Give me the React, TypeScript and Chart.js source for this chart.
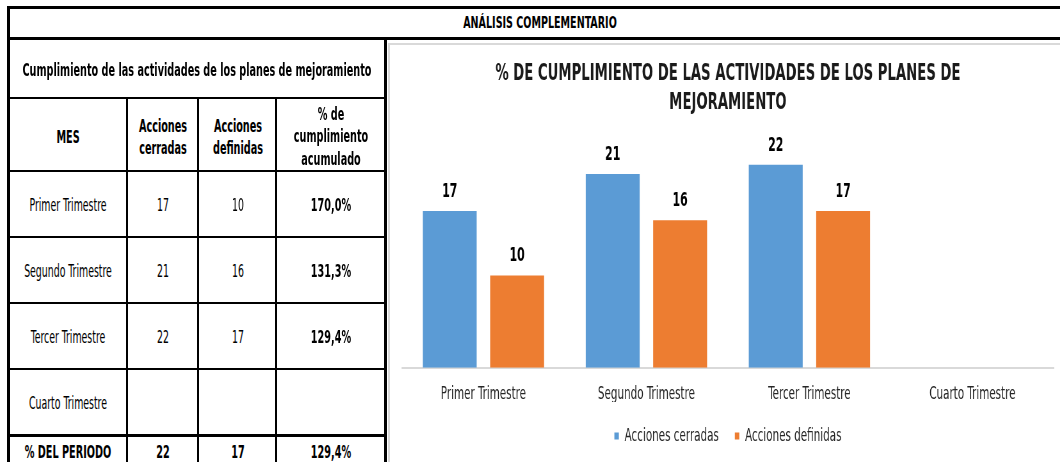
import React, { useEffect, useMemo, useRef } from 'react';
import { Chart, registerables } from 'chart.js';

Chart.register(...registerables);

// ---------- data ----------
const categories = ['Primer Trimestre', 'Segundo Trimestre', 'Tercer Trimestre', 'Cuarto Trimestre'];
const seriesNames = ['Acciones cerradas', 'Acciones definidas'];
const accionesCerradas: (number | null)[] = [17, 21, 22, null];
const accionesDefinidas: (number | null)[] = [10, 16, 17, null];
const cumplimientoAcumulado = ['170,0%', '131,3%', '129,4%', ''];
const totalRow = ['% DEL PERIODO', '22', '17', '129,4%'];
const pageTitle = 'ANÁLISIS COMPLEMENTARIO';
const tableTitle = 'Cumplimiento de las actividades de los planes de mejoramiento';
const tableHeaders = [['MES'], ['Acciones', 'cerradas'], ['Acciones', 'definidas'], ['% de', 'cumplimiento', 'acumulado']];
const chartTitle = ['% DE CUMPLIMIENTO DE LAS ACTIVIDADES DE LOS PLANES DE', 'MEJORAMIENTO'];
const yRange = [0, 25];

// ---------- style ----------
const FONT = "'Liberation Sans Narrow', 'Arial Narrow', 'DejaVu Sans Condensed', sans-serif";
const BLUE = '#5B9BD5';
const ORANGE = '#ED7D31';

function measure(text: string, font: string) {
  const c = document.createElement('canvas').getContext('2d')!;
  c.font = font;
  return c.measureText(text).width;
}

function Txt({ cx, cy, lines, size, bold, lh, sx }: { cx: number; cy: number; lines: string[]; size: number; bold?: boolean; lh: number; sx: number }) {
  return (
    <div style={{ position: 'absolute', left: cx, top: cy, transform: 'translate(-50%, -50%)' }}>
      <div
        style={{
          display: 'inline-block',
          whiteSpace: 'pre',
          textAlign: 'center',
          fontFamily: FONT,
          fontSize: size,
          fontWeight: bold ? 700 : 400,
          lineHeight: `${lh}px`,
          color: '#000',
          transform: `scaleX(${sx})`,
        }}
      >
        {lines.join('\n')}
      </div>
    </div>
  );
}

function Line({ x, y, w, h, c = '#000' }: { x: number; y: number; w: number; h: number; c?: string }) {
  return <div style={{ position: 'absolute', left: x, top: y, width: w, height: h, background: c }} />;
}

const valueLabels = {
  id: 'valueLabels',
  afterDatasetsDraw(chart: any) {
    const ctx = chart.ctx;
    ctx.save();
    ctx.font = `bold 19px ${FONT}`;
    ctx.fillStyle = '#000';
    ctx.textAlign = 'center';
    ctx.textBaseline = 'middle';
    chart.data.datasets.forEach((ds: any, i: number) => {
      const meta = chart.getDatasetMeta(i);
      meta.data.forEach((bar: any, j: number) => {
        const v = ds.data[j];
        if (v === null || v === undefined) return;
        ctx.fillText(String(v), bar.x, bar.y - 19);
      });
    });
    ctx.restore();
  },
};

function ChartPanel() {
  const ref = useRef<HTMLCanvasElement>(null);
  const S = useMemo(() => 85.3 / measure('Primer Trimestre', `18px ${FONT}`), []);
  const CW = Math.round(670 / S);
  const CH = 417;
  useEffect(() => {
    const padLeft = (401.9 - 390) / S;
    const padRight = CW - (1053.9 - 390) / S;
    const chart = new Chart(ref.current!, {
      type: 'bar',
      data: {
        labels: categories,
        datasets: [
          { label: seriesNames[0], data: accionesCerradas, backgroundColor: BLUE, categoryPercentage: 0.827, barPercentage: 0.8 },
          { label: seriesNames[1], data: accionesDefinidas, backgroundColor: ORANGE, categoryPercentage: 0.827, barPercentage: 0.8 },
        ],
      },
      options: {
        responsive: false,
        animation: false,
        devicePixelRatio: 1,
        layout: { padding: { left: padLeft, right: padRight, top: 0, bottom: 7 } },
        plugins: {
          title: {
            display: true,
            text: chartTitle,
            color: '#1a1a1a',
            font: { family: FONT, size: 23, weight: 'bold', lineHeight: 28.5 / 23 },
            padding: { top: 15, bottom: 20.2 },
          },
          legend: {
            position: 'bottom',
            labels: { font: { family: FONT, size: 18 }, color: '#262626', boxWidth: 7, boxHeight: 7, padding: 25 },
          },
          tooltip: { enabled: false },
        },
        scales: {
          x: {
            grid: { display: false, drawTicks: false },
            border: { display: true, color: '#d9d9d9', width: 2 },
            ticks: { font: { family: FONT, size: 18 }, color: '#262626', padding: 15.5 },
            afterFit: (s: any) => {
              s.height = 34.3;
            },
          },
          y: { display: false, min: yRange[0], max: yRange[1] },
        },
      },
      plugins: [valueLabels],
    } as any);
    return () => chart.destroy();
  }, [S, CW]);
  return (
    <div style={{ position: 'absolute', left: 390, top: 45, width: CW, height: CH, transform: `scaleX(${S})`, transformOrigin: '0 0' }}>
      <canvas ref={ref} width={CW} height={CH} style={{ width: CW, height: CH, display: 'block' }} />
    </div>
  );
}

export default function App() {
  const sR = useMemo(() => 87.7 / measure('Segundo Trimestre', `17.5px ${FONT}`), []);
  const sB = useMemo(() => 349 / measure(tableTitle, `bold 17px ${FONT}`), []);
  const colX = [68, 163, 237.5, 331];
  const rowY = [205, 271, 337, 403];
  const rowLines = [170, 236, 302, 368];
  return (
    <div style={{ position: 'absolute', left: 0, top: 0, width: 1060, height: 462, overflow: 'hidden', background: '#fff' }}>
      {/* chart frame */}
      <Line x={388} y={43} w={700} h={2} c="#d9d9d9" />
      <Line x={388} y={43} w={2} h={430} c="#d9d9d9" />
      <ChartPanel />

      {/* table grid */}
      <Line x={7} y={6} w={1060} h={3} />
      <Line x={7} y={37} w={1060} h={3} />
      <Line x={7} y={97} w={379} h={2} />
      {rowLines.map((y) => (
        <Line key={y} x={7} y={y} w={379} h={2} />
      ))}
      <Line x={7} y={434} w={379} h={3} />
      <Line x={7} y={6} w={3} h={460} />
      <Line x={126} y={97} w={2} h={370} />
      <Line x={197} y={97} w={2} h={370} />
      <Line x={275} y={97} w={2} h={370} />
      <Line x={384} y={37} w={3} h={430} />

      {/* texts */}
      <Txt cx={540} cy={22.5} lines={[pageTitle]} size={16} bold lh={20} sx={sB * 1.05} />
      <Txt cx={197} cy={70} lines={[tableTitle]} size={17} bold lh={20} sx={sB} />
      {tableHeaders.map((h, i) => (
        <Txt key={i} cx={colX[i]} cy={136.5} lines={h} size={17} bold lh={22.5} sx={sB} />
      ))}
      {categories.map((c, r) => (
        <React.Fragment key={c}>
          <Txt cx={colX[0]} cy={rowY[r]} lines={[c]} size={17.5} lh={20} sx={sR} />
          <Txt cx={colX[1]} cy={rowY[r]} lines={[accionesCerradas[r] == null ? '' : String(accionesCerradas[r])]} size={17.5} lh={20} sx={sR} />
          <Txt cx={colX[2]} cy={rowY[r]} lines={[accionesDefinidas[r] == null ? '' : String(accionesDefinidas[r])]} size={17.5} lh={20} sx={sR} />
          <Txt cx={colX[3]} cy={rowY[r]} lines={[cumplimientoAcumulado[r]]} size={17} bold lh={20} sx={sB} />
        </React.Fragment>
      ))}
      {totalRow.map((t, i) => (
        <Txt key={'t' + i} cx={colX[i]} cy={451.5} lines={[t]} size={17} bold lh={20} sx={sB} />
      ))}
    </div>
  );
}
